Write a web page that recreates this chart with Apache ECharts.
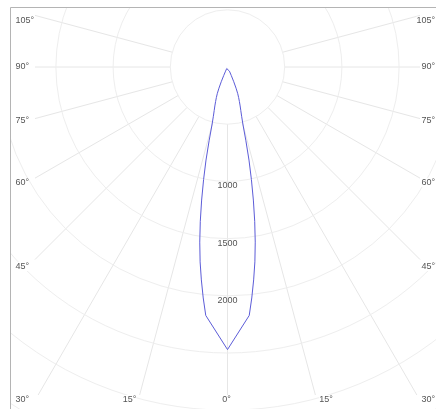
<!DOCTYPE html>
<html><head><meta charset="utf-8">
<script src="https://cdn.jsdelivr.net/npm/echarts@6/dist/echarts.min.js"></script>
<style>html,body{margin:0;padding:0;background:#fff}#c{width:436px;height:409px}</style>
</head><body><div id="c"></div>
<script>
// ---- data ----
var gammaAngles   = [0, 5, 6, 7, 8, 9, 10, 11, 12, 13, 14, 15, 16, 17, 18, 19, 20, 21, 22, 23, 24, 25, 27, 30, 40, 90];
var intensityC0   = [2470, 2180, 2030, 1875, 1720, 1550, 1370, 1185, 1005, 835, 665, 525, 448, 398, 358, 320, 285, 250, 200, 140, 80, 40, 15, 5, 0, 0];
var intensityC180 = [2470, 2180, 2030, 1875, 1720, 1550, 1370, 1185, 1005, 835, 665, 525, 448, 398, 358, 320, 285, 250, 200, 140, 80, 40, 15, 5, 0, 0];
var radiusTickLabels = [1000, 1500, 2000];
var gridAngles = [0, 15, 30, 45, 60, 75, 90, 105];
var leftAngleLabels = ['105°', '90°', '75°', '60°', '45°', '30°'];
var rightAngleLabels = ['105°', '90°', '75°', '60°', '45°', '30°'];
var bottomAngleLabels = ['15°', '0°', '15°'];

// ---- layout ----
var CX = 227.5, CY = 67, RMAX = 3500, PX_PER_CD = 0.1144;
var R_PX = RMAX * PX_PER_CD;
var innerBox = { l: 35, r: 420, b: 395 };
var sideLabelY = [21, 67, 120.5, 182.5, 266.5, 399.5];
var bottomLabelX = [129.5, 226.5, 326];
var FONT = '9px "Liberation Sans", Arial, sans-serif';
var TXT = '#555555', GRID_RAY = '#e6e6e6', GRID_CIRCLE = '#eeeeee';

function rEnd(g) {
  var a = g * Math.PI / 180, s = Math.sin(a), c = Math.cos(a), t = Infinity;
  if (s > 1e-6) t = Math.min(t, (CX - innerBox.l) / s);
  if (c > 1e-6) t = Math.min(t, (innerBox.b - CY) / c);
  return t / PX_PER_CD;
}

var series = [];
gridAngles.forEach(function (g) {
  var sides = g === 0 ? [0] : [g, 360 - g];
  sides.forEach(function (a) {
    series.push({
      type: 'line', coordinateSystem: 'polar', silent: true, symbol: 'none', z: 1,
      lineStyle: { color: GRID_RAY, width: 1 }, animation: false,
      data: [[500, a], [rEnd(g), a]]
    });
  });
});

var curve = [];
for (var i = 0; i < gammaAngles.length; i++) curve.push([intensityC0[i], gammaAngles[i]]);
for (var j = gammaAngles.length - 1; j >= 0; j--) curve.push([intensityC180[j], 360 - gammaAngles[j]]);
series.push({
  type: 'line', coordinateSystem: 'polar', symbol: 'none', smooth: false, z: 5,
  lineStyle: { color: '#5c5cd8', width: 1 }, animation: false, data: curve
});

var graphics = [
  { type: 'rect', z: 99, shape: { x: 0, y: 0, width: 436, height: 7 }, style: { fill: '#fff' } },
  { type: 'rect', z: 99, shape: { x: 0, y: 0, width: 10, height: 409 }, style: { fill: '#fff' } },
  { type: 'rect', z: 100, shape: { x: 10.5, y: 7.5, width: 600, height: 600 }, style: { fill: 'none', stroke: '#b4b4b4', lineWidth: 1 } }
];
leftAngleLabels.forEach(function (t, k) {
  graphics.push({ type: 'text', z: 101, x: 15.5, y: sideLabelY[k],
    style: { text: t, fill: TXT, font: FONT, align: 'left', verticalAlign: 'middle', backgroundColor: '#fff' } });
});
rightAngleLabels.forEach(function (t, k) {
  graphics.push({ type: 'text', z: 101, x: 435, y: sideLabelY[k],
    style: { text: t, fill: TXT, font: FONT, align: 'right', verticalAlign: 'middle', backgroundColor: '#fff' } });
});
bottomAngleLabels.forEach(function (t, k) {
  graphics.push({ type: 'text', z: 101, x: bottomLabelX[k], y: 399.5,
    style: { text: t, fill: TXT, font: FONT, align: 'center', verticalAlign: 'middle', backgroundColor: '#fff' } });
});

var chart = echarts.init(document.getElementById('c'), null, { renderer: 'canvas' });
chart.setOption({
  backgroundColor: '#fff',
  animation: false,
  polar: { center: [CX, CY], radius: R_PX },
  angleAxis: {
    type: 'value', min: 0, max: 360, startAngle: 270, clockwise: true,
    axisLine: { show: false }, axisTick: { show: false }, axisLabel: { show: false },
    splitLine: { show: false }
  },
  radiusAxis: {
    type: 'value', min: 0, max: RMAX, interval: 500,
    axisLine: { show: false }, axisTick: { show: false },
    splitLine: { show: true, lineStyle: { color: GRID_CIRCLE, width: 1 } },
    axisLabel: {
      show: true, margin: 0, align: 'center', verticalAlign: 'top',
      color: TXT, fontSize: 9, fontFamily: '"Liberation Sans", Arial, sans-serif',
      formatter: function (v) { return radiusTickLabels.indexOf(v) >= 0 ? String(v) : ''; }
    },
    z: 3
  },
  graphic: graphics,
  series: series
});
</script></body></html>
